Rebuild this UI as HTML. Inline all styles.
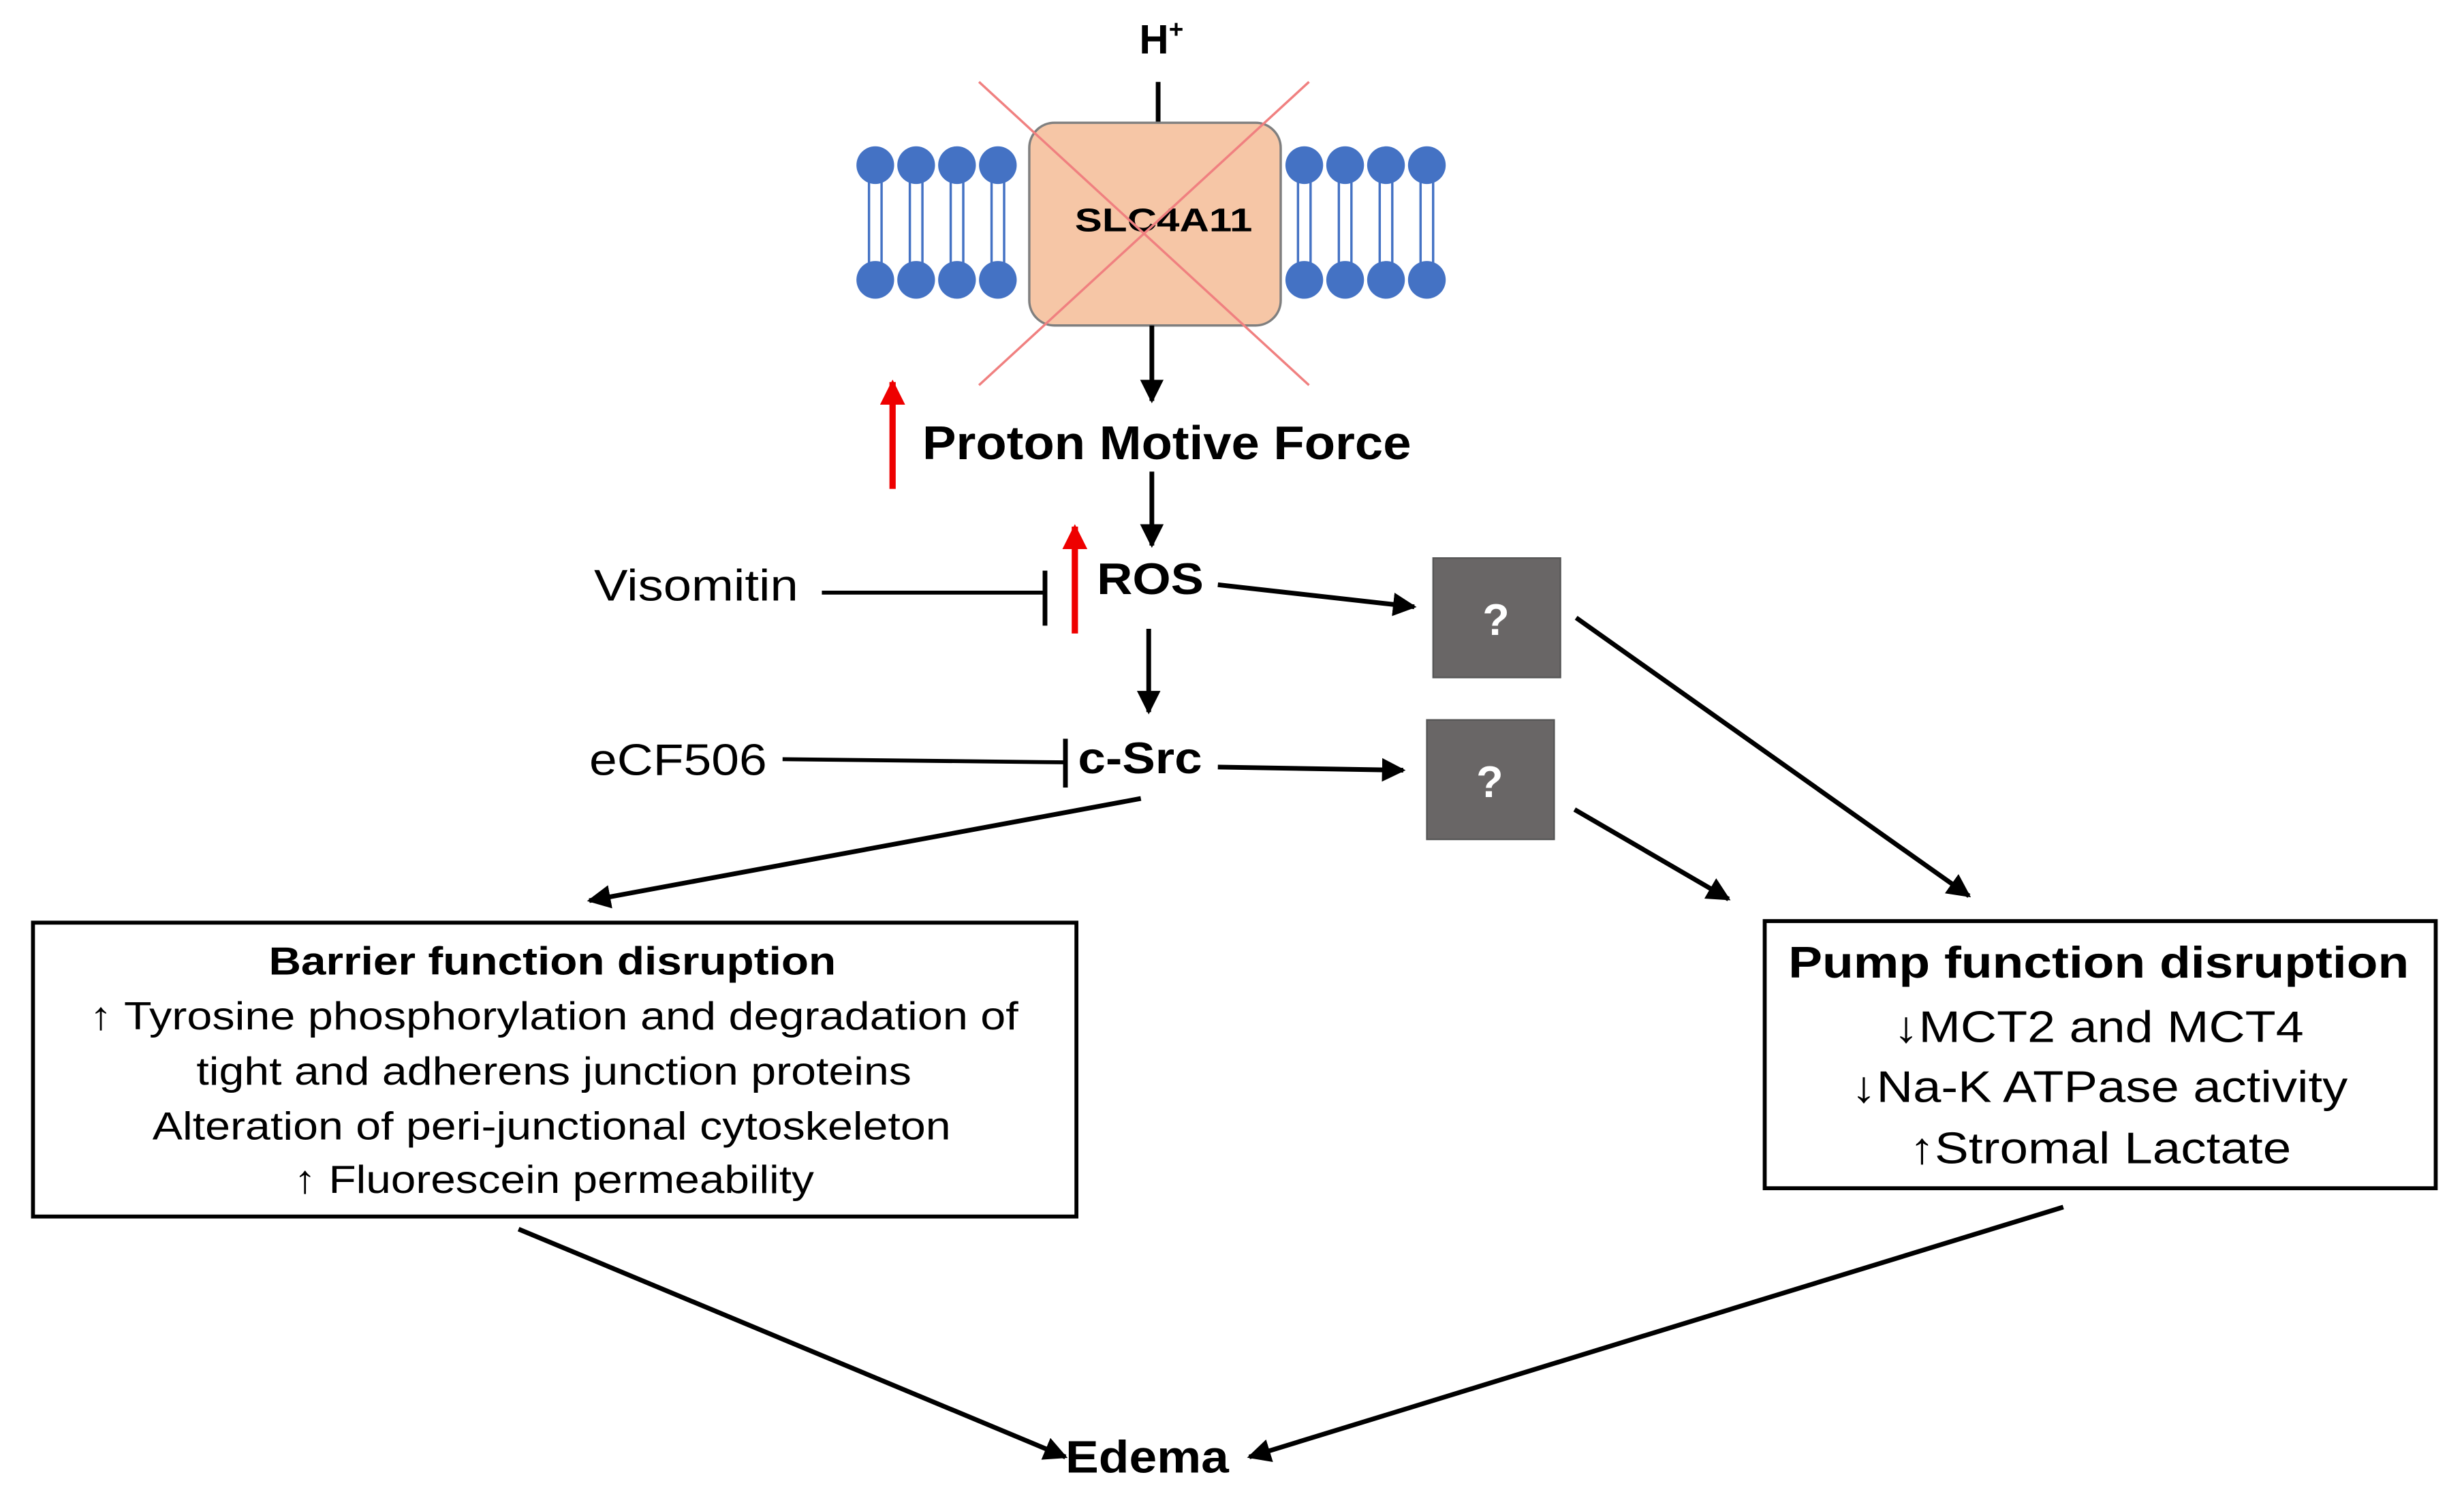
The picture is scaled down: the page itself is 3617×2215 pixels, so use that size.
<!DOCTYPE html>
<html><head><meta charset="utf-8"><style>
html,body{margin:0;padding:0;background:#fff}
svg{display:block}
text{font-family:"Liberation Sans",Arial,sans-serif}
</style></head><body>
<svg width="3617" height="2215" viewBox="0 0 1568 960" xmlns="http://www.w3.org/2000/svg">
<defs>
<marker id="a" viewBox="0 0 10 10" refX="9" refY="5" markerWidth="5" markerHeight="5" orient="auto" markerUnits="strokeWidth"><path d="M0,0 L10,5 L0,10 z" fill="#000"/></marker>
<marker id="r" viewBox="0 0 10 10" refX="9" refY="5" markerWidth="4" markerHeight="4" orient="auto" markerUnits="strokeWidth"><path d="M0,0 L10,5 L0,10 z" fill="#e00"/></marker>
</defs>
<text x="725" y="34" font-size="26" font-weight="bold">H<tspan font-size="16" dy="-10">+</tspan></text>
<line x1="737" y1="52" x2="737" y2="78" stroke="#000" stroke-width="3"/>
<g stroke="#4472c4" stroke-width="1.5">
<line x1="553" y1="110" x2="553" y2="175"/><line x1="561" y1="110" x2="561" y2="175"/>
<line x1="579" y1="110" x2="579" y2="175"/><line x1="587" y1="110" x2="587" y2="175"/>
<line x1="605" y1="110" x2="605" y2="175"/><line x1="613" y1="110" x2="613" y2="175"/>
<line x1="631" y1="110" x2="631" y2="175"/><line x1="639" y1="110" x2="639" y2="175"/>
<line x1="826" y1="110" x2="826" y2="175"/><line x1="834" y1="110" x2="834" y2="175"/>
<line x1="852" y1="110" x2="852" y2="175"/><line x1="860" y1="110" x2="860" y2="175"/>
<line x1="878" y1="110" x2="878" y2="175"/><line x1="886" y1="110" x2="886" y2="175"/>
<line x1="904" y1="110" x2="904" y2="175"/><line x1="912" y1="110" x2="912" y2="175"/>
</g>
<g fill="#4472c4">
<circle cx="557" cy="105" r="12"/><circle cx="583" cy="105" r="12"/><circle cx="609" cy="105" r="12"/><circle cx="635" cy="105" r="12"/>
<circle cx="557" cy="178" r="12"/><circle cx="583" cy="178" r="12"/><circle cx="609" cy="178" r="12"/><circle cx="635" cy="178" r="12"/>
<circle cx="830" cy="105" r="12"/><circle cx="856" cy="105" r="12"/><circle cx="882" cy="105" r="12"/><circle cx="908" cy="105" r="12"/>
<circle cx="830" cy="178" r="12"/><circle cx="856" cy="178" r="12"/><circle cx="882" cy="178" r="12"/><circle cx="908" cy="178" r="12"/>
</g>
<rect x="655" y="78" width="160" height="129" rx="16" fill="#f6c6a6" stroke="#7f7f7f" stroke-width="1.5"/>
<text x="684" y="147" font-size="21" font-weight="bold" textLength="113" lengthAdjust="spacingAndGlyphs">SLC4A11</text>
<line x1="623" y1="52" x2="833" y2="245" stroke="#f08080" stroke-width="1.5"/>
<line x1="833" y1="52" x2="623" y2="245" stroke="#f08080" stroke-width="1.5"/>
<line x1="733" y1="207" x2="733" y2="255" stroke="#000" stroke-width="3" marker-end="url(#a)"/>
<line x1="568" y1="311" x2="568" y2="243" stroke="#e00" stroke-width="4" marker-end="url(#r)"/>
<text x="587" y="292" font-size="30" font-weight="bold" textLength="311" lengthAdjust="spacingAndGlyphs">Proton Motive Force</text>
<line x1="733" y1="300" x2="733" y2="347" stroke="#000" stroke-width="3" marker-end="url(#a)"/>
<text x="378" y="382" font-size="28" textLength="130" lengthAdjust="spacingAndGlyphs">Visomitin</text>
<line x1="523" y1="377" x2="665" y2="377" stroke="#000" stroke-width="2.5"/>
<line x1="665" y1="363" x2="665" y2="398" stroke="#000" stroke-width="3"/>
<line x1="684" y1="403" x2="684" y2="335" stroke="#e00" stroke-width="4" marker-end="url(#r)"/>
<text x="698" y="378" font-size="28" font-weight="bold" textLength="68" lengthAdjust="spacingAndGlyphs">ROS</text>
<line x1="775" y1="372" x2="900" y2="386" stroke="#000" stroke-width="3" marker-end="url(#a)"/>
<rect x="912" y="355" width="81" height="76" fill="#696666" stroke="#555" stroke-width="1"/>
<text x="952" y="404" font-size="28" font-weight="bold" fill="#fff" text-anchor="middle">?</text>
<line x1="1003" y1="393" x2="1253" y2="570" stroke="#000" stroke-width="3" marker-end="url(#a)"/>
<line x1="731" y1="400" x2="731" y2="453" stroke="#000" stroke-width="3" marker-end="url(#a)"/>
<text x="375" y="493" font-size="28" textLength="113" lengthAdjust="spacingAndGlyphs">eCF506</text>
<line x1="498" y1="483" x2="678" y2="485" stroke="#000" stroke-width="2.5"/>
<line x1="678" y1="470" x2="678" y2="501" stroke="#000" stroke-width="3"/>
<text x="686" y="492" font-size="28" font-weight="bold" textLength="79" lengthAdjust="spacingAndGlyphs">c-Src</text>
<line x1="775" y1="488" x2="893" y2="490" stroke="#000" stroke-width="3" marker-end="url(#a)"/>
<rect x="908" y="458" width="81" height="76" fill="#696666" stroke="#555" stroke-width="1"/>
<text x="948" y="507" font-size="28" font-weight="bold" fill="#fff" text-anchor="middle">?</text>
<line x1="1002" y1="515" x2="1100" y2="572" stroke="#000" stroke-width="3" marker-end="url(#a)"/>
<line x1="726" y1="508" x2="375" y2="573" stroke="#000" stroke-width="3" marker-end="url(#a)"/>
<rect x="21" y="587" width="664" height="187" fill="#fff" stroke="#000" stroke-width="2.5"/>
<g font-size="25">
<text x="171" y="620" font-weight="bold" textLength="361" lengthAdjust="spacingAndGlyphs">Barrier function disruption</text>
<text x="57" y="655" textLength="591" lengthAdjust="spacingAndGlyphs">↑ Tyrosine phosphorylation and degradation of</text>
<text x="125" y="690" textLength="455" lengthAdjust="spacingAndGlyphs">tight and adherens junction proteins</text>
<text x="97" y="725" textLength="508" lengthAdjust="spacingAndGlyphs">Alteration of peri-junctional cytoskeleton</text>
<text x="187" y="759" textLength="331" lengthAdjust="spacingAndGlyphs">↑ Fluorescein permeability</text>
</g>
<rect x="1123" y="586" width="427" height="170" fill="#fff" stroke="#000" stroke-width="2.5"/>
<g font-size="28">
<text x="1138" y="622" font-weight="bold" textLength="395" lengthAdjust="spacingAndGlyphs">Pump function disruption</text>
<text x="1205" y="663" textLength="261" lengthAdjust="spacingAndGlyphs">↓MCT2 and MCT4</text>
<text x="1178" y="701" textLength="316" lengthAdjust="spacingAndGlyphs">↓Na-K ATPase activity</text>
<text x="1215" y="740" textLength="243" lengthAdjust="spacingAndGlyphs">↑Stromal Lactate</text>
</g>
<line x1="330" y1="782" x2="678" y2="927" stroke="#000" stroke-width="3" marker-end="url(#a)"/>
<line x1="1313" y1="768" x2="795" y2="927" stroke="#000" stroke-width="3" marker-end="url(#a)"/>
<text x="678" y="937" font-size="29" font-weight="bold" textLength="104" lengthAdjust="spacingAndGlyphs">Edema</text>
</svg>
</body></html>
